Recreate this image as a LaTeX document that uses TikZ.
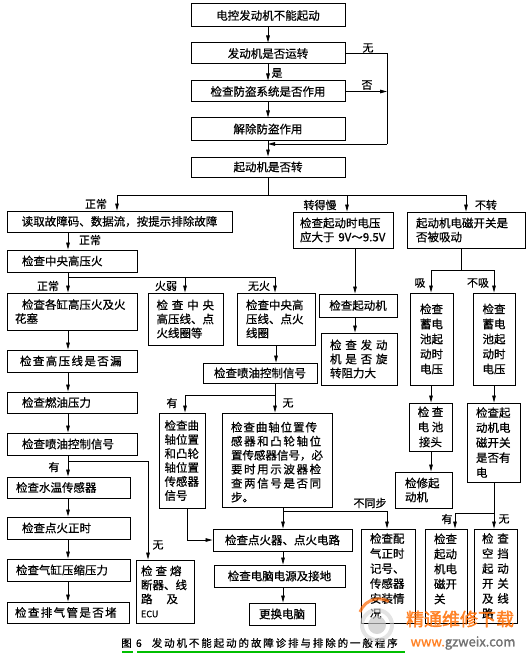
\documentclass[tikz,border=0pt]{standalone}
\usepackage{fontspec}
\setmainfont{Noto Sans CJK SC}[FakeBold=0.6]
\usetikzlibrary{arrows.meta}

\begin{document}
\begin{tikzpicture}[x=1pt, y=-1pt,
    blk/.style={draw, line width=1pt, inner sep=0pt, font=\fontsize{11.5}{14}\selectfont},
    lft/.style={blk, align=left},
    mid/.style={blk, align=center},
    tall/.style={font=\fontsize{11.5}{15}\selectfont},
    wide/.style={font=\fontsize{11.5}{14}\selectfont\addfontfeature{LetterSpace=12}},
    lbl/.style={inner sep=0pt, font=\fontsize{11}{13}\selectfont},
    ln/.style={line width=0.8pt},
    arr/.style={ln, -{Triangle[length=7pt, width=3.6pt]}}]

    \useasboundingbox (0,0) rectangle (527,658);

    % Horni cast
    \node[mid, minimum width=154pt, minimum height=23pt] (start) at (268,15.5) {电控发动机不能起动};
    \node[mid, minimum width=154pt, minimum height=21pt] (run) at (268,53.5) {发动机是否运转};
    \node[mid, minimum width=154pt, minimum height=21pt] (theft) at (268,91.5) {检查防盗系统是否作用};
    \node[mid, minimum width=154pt, minimum height=22pt] (unlock) at (268,129) {解除防盗作用};
    \node[mid, minimum width=154pt, minimum height=20pt] (crank) at (268,167) {起动机是否转};

    \draw[arr] (start) -- (run);
    \draw[arr] (run) -- (theft);
    \draw[arr] (theft) -- (unlock);
    \draw[arr] (unlock) -- (crank);
    \node[lbl] at (277,73) {是};

    % Obchvat vpravo
    \coordinate (rc) at (387,144);
    \coordinate (mj) at (268,144);
    \draw[ln] (run.east) -| (rc);
    \draw[arr] (rc) -- (mj);
    \draw[arr] (theft.east) -- (theft.east -| rc);
    \node[lbl] at (368,48) {无};
    \node[lbl] at (367,85) {否};

    % Vetveni za "起动机是否转"
    \coordinate (c0) at (268,195);
    \coordinate (cl) at (117,195);
    \coordinate (cm) at (347,195);
    \coordinate (cr) at (466,195);
    \draw[ln] (crank) -- (c0);
    \draw[ln] (cl) -- (cr);

    \node[mid, minimum width=225pt, minimum height=21pt] (code) at (119.5,221.5) {读取故障码、数据流，按提示排除故障};
    \node[lft, minimum width=100pt, minimum height=36pt, text width=86pt] (volt) at (343,230) {检查起动时电压\\应大于 9V～9.5V};
    \node[lft, minimum width=118pt, minimum height=36pt, text width=100pt] (solenoid) at (466,230) {起动机电磁开关是\\否被吸动};

    \draw[arr] (cl) -- (cl |- code.north);
    \draw[arr] (cm) -- (cm |- volt.north);
    \draw[arr] (cr) -- (cr |- solenoid.north);
    \node[lbl] at (96,204) {正常};
    \node[lbl] at (320,205) {转得慢};
    \node[lbl] at (486,205) {不转};

    % Leva vetev - zapalovani
    \coordinate (lc) at (68,0);
    \node[lft, minimum width=130pt, minimum height=22pt, text width=100pt] (hv) at (72,261) {检查中央高压火};
    \draw[arr] (code.south -| lc) -- (hv.north -| lc);
    \node[lbl] at (90,240) {正常};

    \coordinate (hb) at (68,277);
    \coordinate (hbm) at (185,277);
    \coordinate (hbr) at (275,277);
    \draw[ln] (hv.south -| lc) -- (hb) -- (hbr);

    \node[lft, minimum width=130pt, minimum height=37pt, text width=114pt] (spark) at (72,311.5) {\hspace{7pt}检查各缸高压火及火\\花塞};
    \node[lft, minimum width=75pt, minimum height=52pt, text width=58pt] (weak) at (185.5,319) {检 查 中 央\\高压线、点\\火线圈等};
    \node[lft, minimum width=78pt, minimum height=52pt, text width=60pt] (nospark) at (276,319) {检查中央高\\压线、点火\\线圈};

    \draw[arr] (hb) -- (spark.north -| hb);
    \draw[arr] (hbm) -- (weak.north -| hbm);
    \draw[arr] (hbr) -- (nospark.north -| hbr);
    \node[lbl] at (48,286) {正常};
    \node[lbl] at (166,286) {火弱};
    \node[lbl] at (259,286) {无火};

    % Levy sloupec
    \node[lft, wide, minimum width=130pt, minimum height=22pt, text width=104pt] (leak) at (72,361) {检查高压线是否漏};
    \node[lft, minimum width=130pt, minimum height=21pt, text width=100pt] (fuel) at (72,402.5) {检查燃油压力};
    \node[lft, minimum width=130pt, minimum height=22pt, text width=100pt] (inj) at (72,444) {检查喷油控制信号};
    \node[lft, minimum width=123pt, minimum height=21pt, text width=105pt] (water) at (68.5,487.5) {检查水温传感器};
    \node[lft, minimum width=123pt, minimum height=22pt, text width=93pt] (igtime) at (68.5,528) {检查点火正时};
    \node[lft, minimum width=123pt, minimum height=22pt, text width=105pt] (compr) at (68.5,570) {检查气缸压缩压力};
    \node[lft, wide, minimum width=122pt, minimum height=21pt, text width=106pt] (exhaust) at (68,612.5) {检查排气管是否堵};

    \draw[arr] (spark.south -| lc) -- (leak.north -| lc);
    \draw[arr] (leak.south -| lc) -- (fuel.north -| lc);
    \draw[arr] (fuel.south -| lc) -- (inj.north -| lc);
    \draw[arr] (inj.south -| lc) -- (water.north -| lc);
    \draw[arr] (water.south -| lc) -- (igtime.north -| lc);
    \draw[arr] (igtime.south -| lc) -- (compr.north -| lc);
    \draw[arr] (compr.south -| lc) -- (exhaust.north -| lc);
    \node[lbl] at (54,467) {有};

    % Pojistky a ECU
    \coordinate (ib) at (68,461);
    \coordinate (fx) at (148,461);
    \node[lft, minimum width=58pt, minimum height=63pt, text width=48pt] (fuse) at (165,591.5) {检\hspace{3pt}查\hspace{3pt}熔\\断器、线\\路\hspace{14pt}及\\{\fontsize{9}{10}\selectfont ECU}};
    \draw[arr] (ib) -| (fuse.north -| fx);
    \node[lbl] at (158,545) {无};

    % Stredni vetev - snimace
    \node[mid, minimum width=114pt, minimum height=20pt] (injmid) at (260,373) {检查喷油控制信号};
    \draw[arr] (nospark) -- (nospark |- injmid.north);

    \coordinate (jb) at (275,395);
    \coordinate (jl) at (185,395);
    \draw[ln] (injmid.south -| jb) -- (jb) -- (jl);

    \node[lft, minimum width=46pt, minimum height=95pt, text width=35pt] (crankalt) at (182,460.5) {检查曲\\轴位置\\和凸轮\\轴位置\\传感器\\信号};
    \node[lft, minimum width=110pt, minimum height=94pt, text width=92pt] (crankchk) at (277,460) {\hspace{6pt}{\addfontfeature{LetterSpace=8}检查曲轴位置传}\\{\addfontfeature{LetterSpace=14}感器和凸轮轴位}\\置传感器信号，必\\{\addfontfeature{LetterSpace=14}要时用示波器检}\\{\addfontfeature{LetterSpace=14}查两信号是否同}\\步。};

    \draw[arr] (jl) -- (crankalt.north -| jl);
    \draw[arr] (jb) -- (crankchk.north -| jb);
    \node[lbl] at (172,403) {有};
    \node[lbl] at (288,403) {无};

    % Zapalovac a ECU
    \node[mid, minimum width=139pt, minimum height=22pt] (ignit) at (282.5,540) {检查点火器、点火电路};
    \node[mid, minimum width=131pt, minimum height=22pt] (ecupow) at (279.5,576) {检查电脑电源及接地};
    \node[mid, minimum width=66pt, minimum height=22pt] (ecunew) at (282,614) {更换电脑};
    \node[lft, tall, minimum width=54pt, minimum height=94pt, text width=36pt] (valve) at (388,576) {检查配\\气正时\\记号、\\传感器\\安装情\\况};

    \coordinate (ax) at (187,0);
    \coordinate (kx) at (283,511);
    \coordinate (kr) at (387,511);
    \draw[arr] (crankalt.south -| ax) |- (ignit.west);
    \draw[arr] (crankchk.south -| kx) -- (ignit.north -| kx);
    \draw[ln] (kx) -- (kr);
    \draw[arr] (kr) -- (valve.north -| kr);
    \draw[arr] (ignit.south -| kx) -- (ecupow.north -| kx);
    \draw[arr] (ecupow.south -| kx) -- (ecunew.north -| kx);
    \node[lbl] at (370,503) {不同步};

    % Prava vetev - starter
    \coordinate (vx) at (355,0);
    \node[mid, minimum width=78pt, minimum height=23pt] (starter) at (358,305.5) {检查起动机};
    \node[lft, minimum width=76pt, minimum height=52pt, text width=58pt] (resist) at (359,359) {检 查 发 动\\机 是 否 旋\\转阻力大};
    \draw[arr] (volt.south -| vx) -- (starter.north -| vx);
    \draw[arr] (starter.south -| vx) -- (resist.north -| vx);

    % Elektromagneticky spinac
    \coordinate (s0) at (461,270);
    \coordinate (sl) at (431,270);
    \coordinate (sr) at (494,270);
    \draw[ln] (solenoid.south -| s0) -- (s0);
    \draw[ln] (sl) -- (sr);

    \node[mid, tall, minimum width=43pt, minimum height=92pt] (bat1) at (431.5,339) {检查\\蓄电\\池起\\动时\\电压};
    \node[mid, tall, minimum width=42pt, minimum height=92pt] (bat2) at (494,339) {检查\\蓄电\\池起\\动时\\电压};
    \draw[arr] (sl) -- (bat1.north -| sl);
    \draw[arr] (sr) -- (bat2.north -| sr);
    \node[lbl] at (420,283) {吸};
    \node[lbl] at (478,283) {不吸};

    \node[mid, tall, minimum width=43pt, minimum height=48pt] (batterm) at (430.5,427) {检 查\\电 池\\接头};
    \node[lft, minimum width=57pt, minimum height=36pt, text width=37pt] (repair) at (423.5,490) {检修起\\动机};
    \node[lft, tall, minimum width=53pt, minimum height=79pt, text width=35pt] (coilchk) at (493.5,442.5) {检查起\\动机电\\磁开关\\是否有\\电};
    \draw[arr] (bat1.south -| sl) -- (batterm.north -| sl);
    \draw[arr] (batterm.south -| sl) -- (repair.north -| sl);
    \draw[arr] (bat2.south -| sr) -- (coilchk.north -| sr);

    \coordinate (e0) at (494,513);
    \coordinate (el) at (455,513);
    \node[lft, tall, minimum width=42pt, minimum height=94pt, text width=24pt] (solsw) at (446,576) {检查\\起动\\机电\\磁开\\关\\\mbox{}};
    \node[lft, tall, minimum width=43pt, minimum height=94pt, text width=27pt] (neutral) at (495.5,576) {检 查\\空 挡\\起 动\\开 关\\及 线\\路};
    \draw[arr] (coilchk.south -| e0) -- (neutral.north -| e0);
    \draw[ln] (e0) -- (el);
    \draw[arr] (el) -- (solsw.north -| el);
    \node[lbl] at (447,519) {有};
    \node[lbl] at (504,519) {无};

    % Popisek
    \node[inner sep=0pt, anchor=west, font=\fontsize{10.5}{12}\selectfont\addfontfeature{LetterSpace=18}] (cap) at (121,643) {图 6\hspace{10pt}发动机不能起动的故障诊排与排除的一般程序};
    \draw[green!75!black, line width=1.2pt] (122,652) -- (133,652);
    \draw[green!75!black, line width=1.2pt] (137,652) -- (405,652);

    % Vodoznak
    \fill[gray!45, opacity=0.7] (377,625) circle (9);
    \draw[gray!35, line width=4pt, opacity=0.6] (377,625) circle (15);
    \draw[orange!80!red, line width=3pt, opacity=0.7] (360,612) arc (200:300:20);
    \node[inner sep=0pt, text=orange!85!red, opacity=0.8, font=\fontsize{18}{20}\selectfont\addfontfeature{FakeBold=2}] (wm) at (460,619) {精通维修下载};
    \node[inner sep=0pt, opacity=0.8, font=\fontsize{13}{15}\selectfont\addfontfeature{FakeBold=1.5}] (url) at (463,643) {\textcolor{orange!85!red}{www.}\textcolor{gray!70!black}{gzweix.com}};

\end{tikzpicture}
\end{document}
